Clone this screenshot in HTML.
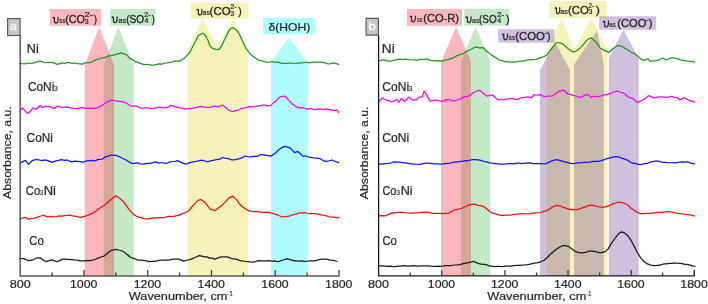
<!DOCTYPE html>
<html><head><meta charset="utf-8"><style>
html,body{margin:0;padding:0;background:#fff;width:708px;height:304px;overflow:hidden}
svg{display:block;will-change:transform}
</style></head><body>
<svg width="708" height="304" viewBox="0 0 708 304">
<polygon points="103.8,275.9 103.8,65.0 118.3,27.0 133.7,65.0 133.7,275.9" fill="rgb(58,178,72)" fill-opacity="0.3"/>
<rect x="110.3" y="8.9" width="44.9" height="16.7" fill="rgb(58,178,72)" fill-opacity="0.3"/>
<polygon points="84.7,275.9 84.7,65.0 99.2,27.0 114.1,65.0 114.1,275.9" fill="rgb(238,18,38)" fill-opacity="0.3"/>
<rect x="49.9" y="9.1" width="51.0" height="16.7" fill="rgb(238,18,38)" fill-opacity="0.3"/>
<polygon points="187.7,275.9 187.7,50.2 202.4,18.9 217.3,46.3 233.1,18.9 247.9,50.2 247.9,275.9" fill="rgb(222,215,25)" fill-opacity="0.3"/>
<rect x="190.5" y="2.9" width="58.0" height="16.0" fill="rgb(222,215,25)" fill-opacity="0.3"/>
<polygon points="271.0,275.9 271.0,62.0 288.8,37.8 307.0,62.0 307.0,275.9" fill="rgb(176,253,255)" fill-opacity="1"/>
<rect x="263.1" y="17.9" width="51.9" height="16.3" fill="rgb(176,253,255)" fill-opacity="1"/>
<polygon points="461.1,275.9 461.1,61.5 475.6,27.0 490.3,61.5 490.3,275.9" fill="rgb(58,178,72)" fill-opacity="0.3"/>
<rect x="464.3" y="8.8" width="45.0" height="16.8" fill="rgb(58,178,72)" fill-opacity="0.3"/>
<polygon points="441.0,275.9 441.0,61.5 456.2,27.0 471.0,61.5 471.0,275.9" fill="rgb(238,18,38)" fill-opacity="0.3"/>
<rect x="406.9" y="9.0" width="55.1" height="16.8" fill="rgb(238,18,38)" fill-opacity="0.3"/>
<polygon points="546.5,275.9 546.5,50.0 561.5,17.7 573.8,50.0 591.6,17.7 607.3,50.0 607.3,275.9" fill="rgb(222,215,25)" fill-opacity="0.3"/>
<rect x="548.9" y="1.1" width="57.8" height="16.6" fill="rgb(222,215,25)" fill-opacity="0.3"/>
<polygon points="540.0,275.9 540.0,70.0 555.0,42.0 570.0,70.0 570.0,275.9" fill="rgb(95,48,145)" fill-opacity="0.3"/>
<polygon points="574.0,275.9 574.0,64.5 597.0,30.8 603.8,64.5 603.8,275.9" fill="rgb(95,48,145)" fill-opacity="0.3"/>
<polygon points="608.8,275.9 608.8,58.0 623.3,30.0 638.7,58.0 638.7,275.9" fill="rgb(95,48,145)" fill-opacity="0.3"/>
<rect x="498.2" y="29.2" width="56.2" height="13.5" fill="rgb(95,48,145)" fill-opacity="0.3"/>
<rect x="599.1" y="16.3" width="57.1" height="13.4" fill="rgb(95,48,145)" fill-opacity="0.3"/>
<path d="M19.80,63.43 L22.09,63.65 L25.00,63.82 L27.51,63.00 L30.00,63.29 L32.50,63.05 L35.00,62.70 L37.50,61.69 L40.00,61.18 L42.50,61.80 L45.00,62.75 L47.56,62.26 L50.00,62.39 L54.00,62.90 L57.00,64.36 L60.00,63.57 L62.38,62.91 L65.00,63.57 L67.50,62.30 L70.00,62.82 L72.50,63.45 L75.00,62.97 L77.50,63.73 L80.00,63.86 L82.50,64.15 L85.00,62.87 L87.50,62.56 L90.00,62.54 L92.50,61.72 L95.00,60.40 L97.50,58.93 L100.00,58.96 L102.50,57.88 L105.00,57.74 L107.56,56.08 L110.00,55.95 L114.00,54.78 L118.00,53.82 L121.00,52.85 L125.00,54.08 L127.38,55.59 L130.00,58.55 L132.95,59.90 L136.00,61.97 L138.78,62.56 L141.80,63.81 L144.20,64.60 L146.84,64.25 L149.70,64.64 L152.03,65.30 L154.52,64.89 L157.08,64.36 L159.60,63.84 L162.08,64.11 L164.56,63.07 L167.03,62.90 L169.50,62.48 L172.08,62.04 L174.73,60.99 L177.21,61.02 L179.30,61.10 L184.00,58.48 L187.20,55.26 L190.00,51.98 L193.00,46.00 L196.00,40.30 L198.00,36.03 L200.50,34.25 L202.60,33.21 L204.50,34.28 L206.00,36.43 L208.00,40.54 L210.00,46.04 L213.00,48.67 L215.80,49.35 L218.80,49.62 L221.50,46.24 L224.70,39.33 L226.80,34.94 L228.70,31.14 L231.00,28.16 L233.00,27.81 L235.30,29.27 L237.60,31.33 L240.00,35.52 L242.50,41.28 L245.90,48.38 L250.40,54.11 L253.26,56.50 L256.30,58.57 L259.15,60.47 L262.20,60.93 L264.59,61.57 L267.16,62.08 L269.70,62.25 L272.14,61.40 L274.56,62.42 L277.00,61.82 L279.49,62.68 L282.00,63.28 L284.50,63.45 L286.97,63.43 L289.44,63.21 L291.90,63.19 L294.37,63.74 L296.83,63.15 L299.30,63.18 L301.76,62.81 L304.23,62.50 L306.70,62.46 L309.20,62.84 L311.70,62.45 L314.20,62.06 L316.67,62.02 L319.14,62.13 L321.60,62.24 L324.18,62.51 L326.76,63.70 L329.00,64.00 L333.40,62.86 L336.27,63.62 L338.60,64.34" fill="none" stroke="#239623" stroke-width="1.25" stroke-linejoin="round" stroke-linecap="round"/>
<path d="M19.80,110.85 L22.40,107.96 L24.84,110.87 L27.60,113.38 L30.33,111.36 L32.80,107.97 L36.00,109.29 L40.20,105.49 L42.50,107.57 L46.00,106.26 L50.60,106.52 L53.60,108.64 L58.00,106.37 L62.00,107.43 L64.48,107.21 L67.00,106.87 L71.40,108.07 L74.34,108.27 L77.30,108.56 L81.80,107.29 L85.00,108.46 L89.20,108.46 L94.00,108.46 L98.00,107.53 L100.88,106.14 L104.00,103.94 L107.01,102.08 L110.00,100.48 L113.07,100.49 L115.90,100.80 L120.00,101.36 L123.11,101.93 L126.20,103.03 L130.10,105.83 L132.56,106.24 L135.50,105.76 L137.93,106.77 L140.62,108.14 L143.30,108.23 L145.81,107.92 L148.31,107.91 L151.00,108.71 L154.19,108.45 L157.56,107.26 L160.40,107.28 L165.00,107.84 L167.76,107.44 L170.50,105.37 L175.00,106.71 L179.00,107.65 L182.01,108.19 L185.30,109.12 L188.21,108.71 L191.50,108.41 L194.49,107.82 L197.81,107.21 L200.80,106.47 L204.17,107.14 L207.00,107.39 L209.52,107.43 L212.00,106.72 L214.98,106.09 L217.90,106.79 L222.50,105.09 L225.00,107.01 L227.62,109.52 L230.90,111.07 L233.31,111.37 L235.91,110.39 L238.60,110.03 L241.34,108.26 L244.17,108.21 L247.00,107.23 L249.83,106.59 L252.66,106.84 L255.50,106.70 L258.40,105.80 L261.29,105.31 L264.00,104.85 L267.62,105.85 L270.80,105.39 L273.41,103.05 L275.80,101.06 L278.39,98.23 L280.90,96.54 L285.20,96.24 L289.40,100.95 L292.64,104.22 L296.20,106.61 L299.39,107.95 L303.00,107.74 L305.29,108.43 L307.84,109.30 L310.49,108.38 L313.10,109.31 L315.68,109.75 L318.30,108.86 L320.87,109.20 L323.30,109.71 L326.39,108.96 L329.28,109.57 L331.80,110.20 L334.77,110.57 L336.90,109.93 L338.60,112.43" fill="none" stroke="#ff00ff" stroke-width="1.25" stroke-linejoin="round" stroke-linecap="round"/>
<path d="M19.80,163.09 L22.41,161.90 L25.40,160.39 L28.40,164.27 L32.80,160.28 L35.89,159.50 L38.80,159.76 L41.70,160.70 L44.70,159.89 L48.00,160.69 L52.10,162.35 L56.00,160.85 L59.50,160.08 L61.71,159.57 L64.36,160.39 L67.00,159.95 L69.42,161.16 L71.83,161.95 L74.40,161.20 L77.37,161.29 L80.50,161.64 L83.30,162.20 L86.44,160.86 L89.20,160.64 L92.33,160.45 L95.10,160.98 L98.10,159.43 L102.50,159.05 L105.50,156.71 L107.76,156.42 L110.51,155.20 L112.90,155.15 L117.00,155.67 L120.00,157.02 L122.94,158.55 L126.20,159.95 L128.81,161.77 L131.70,163.37 L134.37,163.46 L137.37,162.81 L140.20,163.95 L143.70,164.05 L147.20,163.41 L149.89,163.28 L152.74,162.68 L155.70,161.91 L158.66,163.09 L161.71,162.49 L165.10,163.48 L167.46,163.03 L170.06,161.94 L172.73,161.50 L175.27,161.29 L177.50,160.69 L180.44,162.08 L182.88,163.17 L185.30,164.19 L187.81,163.58 L190.32,162.41 L193.00,161.82 L196.15,161.35 L199.48,160.62 L202.30,160.24 L207.00,161.57 L209.81,161.16 L213.20,160.31 L216.32,159.68 L219.79,159.13 L222.50,157.50 L225.00,158.11 L228.13,158.59 L231.80,159.93 L235.21,159.72 L238.60,158.82 L241.84,157.95 L245.30,156.01 L248.06,156.52 L251.03,156.84 L253.80,156.34 L257.09,156.49 L260.60,154.53 L263.03,154.78 L265.81,155.21 L268.54,155.57 L270.80,156.13 L273.56,154.35 L275.80,152.78 L278.79,149.68 L281.80,147.66 L284.51,146.37 L286.90,146.89 L290.30,148.07 L294.50,152.70 L297.90,151.44 L300.03,153.43 L303.00,156.34 L305.25,155.76 L307.94,156.77 L310.69,157.38 L313.10,157.88 L316.71,158.11 L319.90,158.52 L323.41,160.80 L326.70,161.27 L329.25,160.76 L331.80,159.99 L335.52,161.47 L338.60,162.67" fill="none" stroke="#1212fa" stroke-width="1.25" stroke-linejoin="round" stroke-linecap="round"/>
<path d="M19.80,219.02 L22.41,218.21 L25.40,217.32 L28.40,219.33 L30.54,218.64 L33.17,218.46 L35.80,217.85 L38.40,216.72 L41.00,216.02 L43.20,215.04 L47.00,216.90 L49.33,216.70 L52.10,216.66 L54.29,216.75 L56.73,216.64 L59.50,215.83 L62.01,216.07 L64.84,215.51 L67.60,215.45 L69.90,215.23 L72.77,215.91 L75.00,216.19 L77.69,216.77 L80.30,217.46 L84.70,216.28 L87.03,215.51 L89.70,214.45 L92.20,213.39 L95.16,211.46 L98.10,209.30 L100.51,207.57 L103.09,206.06 L105.50,204.48 L108.63,201.55 L111.40,199.33 L115.90,195.85 L120.00,198.50 L122.97,201.40 L126.20,205.47 L129.30,209.94 L132.40,213.43 L135.40,215.76 L138.60,217.13 L141.03,217.67 L143.63,218.69 L146.40,218.85 L149.39,218.88 L152.54,217.97 L155.70,218.15 L158.83,217.59 L161.97,217.55 L165.10,217.26 L168.27,216.35 L171.42,216.38 L174.40,216.04 L177.14,215.58 L179.70,214.91 L182.10,213.64 L185.34,212.49 L188.40,211.05 L191.68,207.27 L194.60,203.87 L198.00,200.41 L200.80,199.51 L204.70,202.34 L207.35,205.68 L210.10,209.22 L214.80,210.66 L217.94,208.14 L221.00,205.91 L225.00,202.40 L228.40,198.36 L232.60,196.13 L236.90,200.13 L239.35,203.76 L242.00,206.52 L244.79,208.49 L247.90,210.35 L250.21,211.10 L252.71,211.76 L255.50,211.56 L257.91,211.64 L260.54,212.10 L263.21,212.43 L265.70,212.15 L268.60,212.34 L271.31,213.09 L274.20,213.74 L276.65,214.60 L279.25,215.79 L281.85,216.86 L284.30,216.71 L287.25,216.43 L290.03,215.82 L292.80,214.74 L295.64,214.31 L298.47,212.99 L301.30,212.77 L304.10,212.58 L306.90,213.25 L309.70,213.65 L312.53,213.57 L315.36,213.58 L318.20,214.10 L320.91,214.83 L323.61,215.14 L326.70,216.00 L329.71,216.88 L333.18,217.01 L336.38,217.82 L338.60,217.65" fill="none" stroke="#fa0c0c" stroke-width="1.25" stroke-linejoin="round" stroke-linecap="round"/>
<path d="M19.80,258.67 L23.90,258.69 L28.40,260.57 L33.00,259.77 L37.30,257.77 L40.20,257.87 L43.01,259.84 L46.20,261.55 L49.24,260.63 L52.10,259.82 L56.60,261.57 L59.27,260.85 L62.50,259.08 L65.24,259.22 L68.32,259.39 L71.40,259.53 L74.42,259.92 L77.44,260.03 L80.30,260.84 L82.88,260.87 L85.29,260.88 L87.70,260.48 L90.11,260.66 L92.52,260.20 L95.10,259.51 L98.01,258.11 L101.09,256.98 L104.00,256.22 L106.69,254.04 L109.20,251.71 L111.40,250.32 L115.90,249.30 L119.49,250.25 L123.10,251.25 L127.80,255.00 L130.03,257.00 L132.59,258.07 L135.50,258.96 L138.00,260.15 L140.75,260.12 L143.60,260.43 L146.40,260.87 L149.09,261.59 L151.76,261.30 L154.47,261.31 L157.30,260.75 L159.73,260.44 L162.30,260.18 L164.89,260.21 L167.39,260.13 L169.70,259.96 L173.20,259.12 L176.36,259.19 L179.00,259.07 L183.70,261.19 L186.51,260.26 L189.90,259.55 L192.83,258.36 L196.10,257.01 L199.20,255.58 L201.91,256.19 L204.46,256.90 L207.00,256.91 L209.72,258.14 L212.44,258.06 L214.80,259.05 L219.40,257.45 L221.96,256.79 L225.00,256.92 L227.62,256.85 L230.56,258.07 L233.50,258.99 L236.34,259.06 L239.17,260.33 L242.00,260.87 L244.80,261.25 L247.60,261.55 L250.40,261.88 L253.16,262.06 L255.94,261.43 L258.90,260.65 L261.33,260.94 L263.90,260.78 L266.52,260.77 L269.10,260.70 L271.78,261.09 L274.55,260.95 L277.12,261.58 L279.20,261.31 L283.00,259.99 L287.70,258.55 L290.00,259.73 L294.50,260.89 L296.61,260.84 L299.14,261.09 L301.90,260.84 L304.70,261.33 L307.73,261.22 L311.02,260.75 L314.10,260.82 L316.50,260.41 L320.00,259.37 L323.36,259.15 L326.70,259.05 L330.00,260.08 L333.66,260.28 L336.90,261.50" fill="none" stroke="#1a1a1a" stroke-width="1.25" stroke-linejoin="round" stroke-linecap="round"/>
<path d="M378.70,61.00 L381.61,60.06 L384.90,59.98 L387.90,61.09 L390.43,61.23 L393.61,60.34 L396.80,59.52 L399.77,59.04 L402.73,59.53 L405.70,59.18 L408.61,59.64 L411.53,59.75 L414.60,59.94 L417.07,60.34 L419.66,59.30 L422.29,59.35 L424.90,59.42 L427.56,58.98 L430.28,60.32 L432.91,60.55 L435.30,60.90 L437.99,60.72 L440.34,60.79 L442.70,61.05 L445.20,60.04 L447.70,59.61 L450.20,58.96 L452.73,58.09 L455.25,56.76 L457.60,55.41 L460.64,54.46 L463.50,53.60 L466.44,51.53 L469.40,49.97 L472.49,48.56 L475.40,46.97 L479.80,47.87 L483.40,47.62 L485.89,50.71 L488.90,52.87 L491.30,54.88 L493.94,56.61 L496.60,58.14 L499.08,60.10 L501.57,60.60 L504.40,61.28 L506.87,61.86 L509.56,61.77 L512.40,62.06 L515.30,62.01 L517.68,61.63 L520.15,61.20 L522.66,61.16 L525.19,60.63 L527.70,59.78 L530.29,59.88 L533.00,59.58 L535.65,59.35 L538.10,58.65 L540.20,57.84 L543.89,56.48 L546.40,55.40 L549.50,51.16 L552.60,47.24 L555.50,43.80 L558.00,42.28 L562.70,43.89 L565.40,46.30 L568.10,48.68 L572.80,51.95 L575.90,51.35 L580.50,47.69 L583.00,44.77 L585.20,42.29 L588.00,39.33 L591.20,37.83 L593.50,39.79 L595.90,41.92 L600.50,48.27 L605.20,50.85 L609.10,52.45 L613.00,48.53 L615.42,46.99 L617.90,45.45 L622.30,46.58 L625.19,48.36 L628.50,50.20 L630.99,52.23 L633.65,53.05 L636.30,54.97 L639.01,57.29 L641.72,59.69 L644.00,60.38 L647.90,58.83 L650.30,61.29 L653.16,60.96 L656.50,60.64 L659.79,59.55 L662.70,57.98 L665.80,60.04 L668.06,59.04 L670.83,57.99 L673.60,57.90 L676.23,58.32 L678.85,59.16 L681.30,60.07 L684.44,60.55 L687.50,61.05 L691.39,61.38 L694.50,62.10" fill="none" stroke="#239623" stroke-width="1.25" stroke-linejoin="round" stroke-linecap="round"/>
<path d="M378.70,102.13 L381.90,98.07 L384.90,99.46 L387.66,100.58 L390.80,101.56 L394.03,101.06 L396.80,99.37 L399.00,102.30 L401.20,98.48 L404.90,101.45 L408.60,97.15 L413.10,100.23 L416.14,99.71 L419.00,97.16 L422.00,97.13 L424.20,91.01 L427.20,96.17 L430.10,101.09 L432.51,100.52 L435.30,99.93 L438.16,100.72 L441.30,101.26 L443.77,100.97 L446.40,99.66 L448.70,99.47 L453.10,100.89 L455.34,100.65 L457.92,99.78 L460.50,98.82 L462.96,97.35 L465.43,96.66 L467.90,96.27 L470.49,95.12 L473.09,92.76 L475.40,91.75 L477.88,90.43 L480.30,90.60 L483.76,93.67 L487.30,96.17 L490.15,95.19 L492.80,95.23 L495.16,97.53 L498.20,99.91 L500.58,99.83 L503.41,99.70 L506.36,99.10 L509.10,98.82 L512.32,98.29 L515.36,99.26 L518.40,99.28 L521.70,97.54 L525.00,97.42 L527.70,96.98 L531.60,97.54 L533.90,94.57 L536.91,95.03 L540.20,94.58 L544.80,97.02 L547.22,96.14 L550.00,96.01 L552.60,95.77 L555.89,93.56 L558.80,91.45 L563.50,90.07 L568.10,94.22 L571.10,94.66 L574.30,95.66 L577.51,96.52 L580.50,97.59 L585.00,95.12 L588.10,94.31 L591.20,97.59 L593.90,96.29 L597.28,96.55 L600.50,96.07 L603.16,94.82 L605.64,94.79 L608.30,94.08 L611.34,92.98 L614.56,91.76 L617.60,91.15 L620.31,92.24 L622.86,92.96 L625.40,94.23 L628.12,96.98 L630.84,97.93 L633.20,98.92 L637.80,102.53 L640.89,100.75 L644.00,99.20 L648.70,95.69 L653.40,97.87 L656.10,97.69 L659.31,96.81 L662.70,96.94 L665.42,97.38 L668.34,97.17 L671.17,96.23 L673.60,97.27 L677.09,97.67 L679.80,99.84 L684.40,97.67 L689.10,100.46 L692.09,101.33 L694.50,102.03" fill="none" stroke="#ff00ff" stroke-width="1.25" stroke-linejoin="round" stroke-linecap="round"/>
<path d="M378.70,164.12 L381.43,164.17 L384.90,163.57 L387.86,163.49 L390.80,163.02 L393.61,161.99 L396.80,162.09 L399.44,162.18 L402.41,162.55 L405.70,162.90 L408.48,163.30 L411.51,163.79 L414.58,164.12 L417.50,164.25 L420.27,164.34 L422.98,163.68 L425.54,163.18 L427.90,163.21 L430.59,163.27 L432.94,163.66 L435.30,163.97 L437.66,163.75 L440.01,164.07 L442.70,163.89 L445.16,163.63 L447.90,163.32 L450.64,163.01 L453.10,162.43 L455.79,161.84 L458.14,161.77 L460.50,161.46 L463.07,161.18 L465.65,160.74 L467.90,160.76 L472.40,159.68 L474.90,159.71 L478.00,159.86 L480.77,160.32 L483.94,161.49 L487.30,162.17 L489.91,162.84 L492.65,163.23 L495.44,163.51 L498.20,163.86 L500.82,164.17 L503.36,164.10 L506.05,163.91 L509.10,163.56 L511.42,163.54 L513.92,163.80 L516.56,163.15 L519.26,163.09 L521.96,163.65 L524.60,163.19 L527.30,163.01 L530.14,162.86 L532.98,163.52 L535.69,163.56 L538.14,163.59 L540.20,163.66 L543.89,163.88 L546.40,163.51 L549.55,161.83 L552.60,160.63 L555.25,159.75 L558.00,159.79 L561.26,160.78 L565.00,161.83 L567.81,162.61 L570.88,163.30 L574.30,163.51 L576.68,162.93 L579.31,162.78 L582.01,162.71 L584.57,162.27 L586.80,162.26 L589.60,162.14 L591.85,161.54 L594.30,161.34 L597.38,161.31 L600.66,160.95 L603.60,159.85 L606.94,158.68 L609.90,157.95 L613.01,157.09 L616.10,156.66 L619.10,157.01 L622.30,158.38 L624.79,159.05 L627.45,160.11 L630.10,161.95 L632.61,163.21 L635.11,163.39 L637.80,164.19 L640.90,164.55 L644.19,163.53 L647.20,163.51 L650.70,161.95 L654.10,161.28 L656.59,160.87 L659.26,161.47 L662.70,162.37 L664.96,162.34 L667.59,162.70 L670.41,162.75 L673.24,162.59 L675.90,162.94 L678.20,162.25 L681.84,161.81 L684.80,162.05 L687.50,161.74 L691.58,163.33 L694.50,163.76" fill="none" stroke="#1212fa" stroke-width="1.25" stroke-linejoin="round" stroke-linecap="round"/>
<path d="M378.70,215.80 L381.43,215.53 L384.90,215.81 L387.59,214.93 L390.80,213.32 L393.12,212.79 L395.81,212.61 L398.60,212.50 L401.20,212.11 L404.11,212.64 L406.86,212.98 L410.10,213.21 L412.56,213.07 L415.35,212.77 L418.25,212.65 L421.04,212.32 L423.50,212.39 L426.75,212.22 L429.50,212.65 L432.40,213.48 L434.98,213.35 L437.73,213.42 L440.39,213.45 L442.70,213.62 L445.88,213.42 L448.70,213.25 L451.12,211.78 L453.69,210.16 L456.10,209.54 L459.14,209.00 L462.00,208.24 L464.94,206.81 L467.90,205.36 L471.01,204.55 L473.90,203.93 L478.00,205.32 L480.52,205.68 L483.40,206.32 L486.56,208.74 L490.40,211.97 L492.74,213.12 L495.32,213.79 L498.16,214.53 L501.30,215.54 L503.62,215.26 L506.12,215.22 L508.76,215.18 L511.46,214.86 L514.16,214.27 L516.80,214.16 L519.45,213.85 L522.17,213.65 L524.89,213.60 L527.54,214.00 L530.07,213.65 L532.40,213.24 L535.57,212.93 L538.44,212.75 L541.02,212.54 L543.30,211.67 L546.64,210.62 L549.50,209.11 L552.95,206.75 L556.50,205.32 L559.96,206.02 L563.50,207.34 L566.01,208.15 L568.60,209.12 L571.20,209.60 L573.86,209.59 L576.53,209.57 L579.00,209.18 L582.10,207.96 L585.00,207.18 L587.89,205.65 L591.20,205.24 L594.13,205.67 L597.40,206.49 L600.50,207.24 L603.13,207.33 L605.59,206.59 L608.30,205.82 L610.74,204.92 L613.40,203.59 L616.04,202.87 L618.40,202.03 L622.04,202.59 L625.40,203.73 L627.94,205.20 L630.58,207.71 L633.20,209.71 L635.83,211.58 L638.44,212.80 L640.90,213.72 L644.05,213.70 L647.20,213.46 L649.49,213.33 L651.93,212.90 L654.90,212.85 L657.12,212.28 L659.64,212.39 L662.29,212.26 L664.93,211.92 L667.40,211.52 L670.09,211.92 L672.56,212.22 L675.15,212.89 L678.20,213.36 L680.79,213.51 L683.83,214.04 L687.03,214.49 L690.07,214.77 L692.66,215.58 L694.50,215.79" fill="none" stroke="#fa0c0c" stroke-width="1.25" stroke-linejoin="round" stroke-linecap="round"/>
<path d="M378.70,265.84 L380.30,265.95 L382.53,265.90 L385.18,266.11 L388.01,266.32 L390.80,266.18 L393.12,266.52 L395.56,266.61 L398.08,266.13 L400.64,266.02 L403.19,265.72 L405.70,265.89 L408.17,266.06 L410.64,265.77 L413.11,265.62 L415.57,265.85 L418.03,266.13 L420.50,265.80 L423.05,265.84 L425.71,265.82 L428.36,265.84 L430.91,266.19 L433.26,266.28 L435.30,266.29 L438.15,266.17 L440.17,266.38 L442.70,266.09 L445.39,265.64 L448.46,265.52 L451.62,265.50 L454.60,265.00 L457.34,264.89 L459.99,264.60 L462.54,263.91 L465.00,263.36 L468.26,262.69 L471.34,261.81 L473.90,261.44 L478.00,263.38 L481.04,264.13 L484.60,264.48 L486.85,264.94 L489.27,265.99 L492.80,266.38 L494.88,266.66 L497.30,266.33 L499.95,266.47 L502.74,266.52 L505.56,266.15 L508.32,266.08 L510.90,266.09 L513.77,265.68 L516.61,265.47 L519.41,265.47 L522.13,265.07 L524.77,264.91 L527.30,264.68 L530.25,264.08 L533.13,263.36 L535.85,262.96 L538.33,262.61 L540.50,261.80 L544.38,260.09 L547.10,257.79 L551.00,253.73 L555.30,250.04 L557.60,248.51 L560.24,246.74 L562.70,245.69 L565.66,245.55 L568.50,246.32 L571.70,248.69 L575.00,251.29 L578.08,252.44 L581.60,252.81 L583.87,252.52 L586.40,252.15 L589.03,251.21 L591.60,251.19 L594.14,251.26 L596.71,251.92 L599.18,252.60 L601.40,252.68 L605.12,251.63 L608.00,249.15 L611.00,243.90 L614.60,238.78 L618.00,234.35 L621.20,231.92 L624.50,232.95 L627.80,235.72 L631.00,240.22 L634.30,246.55 L637.50,252.72 L640.90,258.12 L644.00,261.45 L647.50,263.91 L650.59,265.09 L654.10,265.51 L656.27,265.48 L658.64,265.36 L661.22,264.73 L664.00,263.95 L666.47,263.81 L669.16,263.33 L671.94,263.33 L674.63,262.96 L677.10,263.25 L679.84,263.37 L682.37,263.57 L684.73,264.32 L687.00,264.34 L690.10,265.20 L693.00,266.16 L695.00,266.44" fill="none" stroke="#1a1a1a" stroke-width="1.25" stroke-linejoin="round" stroke-linecap="round"/>
<path d="M20.2,35.5 V275.9 H339.0 V269.9" fill="none" stroke="#5a5a5a" stroke-width="1.50"/>
<line x1="52.1" y1="275.9" x2="52.1" y2="272.4" stroke="#333" stroke-width="1.2"/>
<line x1="84.0" y1="275.9" x2="84.0" y2="269.9" stroke="#333" stroke-width="1.2"/>
<line x1="115.8" y1="275.9" x2="115.8" y2="272.4" stroke="#333" stroke-width="1.2"/>
<line x1="147.7" y1="275.9" x2="147.7" y2="269.9" stroke="#333" stroke-width="1.2"/>
<line x1="179.6" y1="275.9" x2="179.6" y2="272.4" stroke="#333" stroke-width="1.2"/>
<line x1="211.5" y1="275.9" x2="211.5" y2="269.9" stroke="#333" stroke-width="1.2"/>
<line x1="243.4" y1="275.9" x2="243.4" y2="272.4" stroke="#333" stroke-width="1.2"/>
<line x1="275.2" y1="275.9" x2="275.2" y2="269.9" stroke="#333" stroke-width="1.2"/>
<line x1="307.1" y1="275.9" x2="307.1" y2="272.4" stroke="#333" stroke-width="1.2"/>
<path d="M378.6,35.3 V275.9 H694.3 V269.9" fill="none" stroke="#1a1a1a" stroke-width="1.30"/>
<line x1="410.2" y1="275.9" x2="410.2" y2="272.4" stroke="#333" stroke-width="1.2"/>
<line x1="441.7" y1="275.9" x2="441.7" y2="269.9" stroke="#333" stroke-width="1.2"/>
<line x1="473.3" y1="275.9" x2="473.3" y2="272.4" stroke="#333" stroke-width="1.2"/>
<line x1="504.9" y1="275.9" x2="504.9" y2="269.9" stroke="#333" stroke-width="1.2"/>
<line x1="536.5" y1="275.9" x2="536.5" y2="272.4" stroke="#333" stroke-width="1.2"/>
<line x1="568.0" y1="275.9" x2="568.0" y2="269.9" stroke="#333" stroke-width="1.2"/>
<line x1="599.6" y1="275.9" x2="599.6" y2="272.4" stroke="#333" stroke-width="1.2"/>
<line x1="631.2" y1="275.9" x2="631.2" y2="269.9" stroke="#333" stroke-width="1.2"/>
<line x1="662.7" y1="275.9" x2="662.7" y2="272.4" stroke="#333" stroke-width="1.2"/>
<rect x="7.6" y="18.6" width="12.5" height="16.9" fill="#c8c8c8" stroke="#5a5a5a" stroke-width="1.2"/>
<rect x="366.1" y="18.4" width="12.3" height="16.7" fill="#c8c8c8" stroke="#5a5a5a" stroke-width="1.2"/>
<text x="9.65" y="288.00" font-size="11.60" font-family="Liberation Sans, sans-serif" fill="#262626" stroke="#262626" stroke-width="0.21" textLength="21.04" lengthAdjust="spacingAndGlyphs" >800</text>
<text x="70.02" y="288.00" font-size="11.60" font-family="Liberation Sans, sans-serif" fill="#262626" stroke="#262626" stroke-width="0.21" textLength="27.42" lengthAdjust="spacingAndGlyphs" >1000</text>
<text x="133.78" y="288.00" font-size="11.60" font-family="Liberation Sans, sans-serif" fill="#262626" stroke="#262626" stroke-width="0.21" textLength="27.42" lengthAdjust="spacingAndGlyphs" >1200</text>
<text x="197.54" y="288.00" font-size="11.60" font-family="Liberation Sans, sans-serif" fill="#262626" stroke="#262626" stroke-width="0.21" textLength="27.42" lengthAdjust="spacingAndGlyphs" >1400</text>
<text x="261.30" y="288.00" font-size="11.60" font-family="Liberation Sans, sans-serif" fill="#262626" stroke="#262626" stroke-width="0.21" textLength="27.42" lengthAdjust="spacingAndGlyphs" >1600</text>
<text x="325.06" y="288.00" font-size="11.60" font-family="Liberation Sans, sans-serif" fill="#262626" stroke="#262626" stroke-width="0.21" textLength="27.42" lengthAdjust="spacingAndGlyphs" >1800</text>
<text x="368.05" y="288.00" font-size="11.60" font-family="Liberation Sans, sans-serif" fill="#262626" stroke="#262626" stroke-width="0.21" textLength="21.04" lengthAdjust="spacingAndGlyphs" >800</text>
<text x="427.80" y="288.00" font-size="11.60" font-family="Liberation Sans, sans-serif" fill="#262626" stroke="#262626" stroke-width="0.21" textLength="27.42" lengthAdjust="spacingAndGlyphs" >1000</text>
<text x="490.94" y="288.00" font-size="11.60" font-family="Liberation Sans, sans-serif" fill="#262626" stroke="#262626" stroke-width="0.21" textLength="27.42" lengthAdjust="spacingAndGlyphs" >1200</text>
<text x="554.08" y="288.00" font-size="11.60" font-family="Liberation Sans, sans-serif" fill="#262626" stroke="#262626" stroke-width="0.21" textLength="27.42" lengthAdjust="spacingAndGlyphs" >1400</text>
<text x="617.22" y="288.00" font-size="11.60" font-family="Liberation Sans, sans-serif" fill="#262626" stroke="#262626" stroke-width="0.21" textLength="27.42" lengthAdjust="spacingAndGlyphs" >1600</text>
<text x="680.36" y="288.00" font-size="11.60" font-family="Liberation Sans, sans-serif" fill="#262626" stroke="#262626" stroke-width="0.21" textLength="27.42" lengthAdjust="spacingAndGlyphs" >1800</text>
<text x="128.74" y="300.00" font-size="11.80" font-family="Liberation Sans, sans-serif" fill="#262626" stroke="#262626" stroke-width="0.21" textLength="98.69" lengthAdjust="spacingAndGlyphs" >Wavenumber, cm</text>
<text x="227.01" y="295.60" font-size="7.40" font-family="Liberation Sans, sans-serif" fill="#262626" stroke="#262626" stroke-width="0.13" textLength="5.81" lengthAdjust="spacingAndGlyphs" >-1</text>
<text x="487.34" y="299.90" font-size="11.80" font-family="Liberation Sans, sans-serif" fill="#262626" stroke="#262626" stroke-width="0.21" textLength="98.99" lengthAdjust="spacingAndGlyphs" >Wavenumber, cm</text>
<text x="585.92" y="295.50" font-size="7.40" font-family="Liberation Sans, sans-serif" fill="#262626" stroke="#262626" stroke-width="0.13" textLength="5.59" lengthAdjust="spacingAndGlyphs" >-1</text>
<text x="26.87" y="52.60" font-size="11.90" font-family="Liberation Sans, sans-serif" fill="#262626" stroke="#262626" stroke-width="0.22" textLength="11.88" lengthAdjust="spacingAndGlyphs" >Ni</text>
<text x="27.90" y="90.60" font-size="11.90" font-family="Liberation Sans, sans-serif" fill="#262626" stroke="#262626" stroke-width="0.22" textLength="26.40" lengthAdjust="spacingAndGlyphs" >CoNi</text>
<text x="54.05" y="90.60" font-size="7.80" font-family="Liberation Sans, sans-serif" fill="#262626" stroke="#262626" stroke-width="0.14" textLength="3.64" lengthAdjust="spacingAndGlyphs" >3</text>
<text x="26.60" y="141.60" font-size="11.90" font-family="Liberation Sans, sans-serif" fill="#262626" stroke="#262626" stroke-width="0.22" textLength="26.40" lengthAdjust="spacingAndGlyphs" >CoNi</text>
<text x="25.83" y="194.80" font-size="11.90" font-family="Liberation Sans, sans-serif" fill="#262626" stroke="#262626" stroke-width="0.22" textLength="14.45" lengthAdjust="spacingAndGlyphs" >Co</text>
<text x="40.09" y="195.20" font-size="7.80" font-family="Liberation Sans, sans-serif" fill="#262626" stroke="#262626" stroke-width="0.14" textLength="3.05" lengthAdjust="spacingAndGlyphs" >3</text>
<text x="43.74" y="194.80" font-size="11.90" font-family="Liberation Sans, sans-serif" fill="#262626" stroke="#262626" stroke-width="0.22" textLength="12.24" lengthAdjust="spacingAndGlyphs" >Ni</text>
<text x="29.23" y="245.30" font-size="11.90" font-family="Liberation Sans, sans-serif" fill="#262626" stroke="#262626" stroke-width="0.22" textLength="14.45" lengthAdjust="spacingAndGlyphs" >Co</text>
<text x="381.89" y="52.60" font-size="11.90" font-family="Liberation Sans, sans-serif" fill="#262626" stroke="#262626" stroke-width="0.22" textLength="12.83" lengthAdjust="spacingAndGlyphs" >Ni</text>
<text x="382.39" y="90.60" font-size="11.90" font-family="Liberation Sans, sans-serif" fill="#262626" stroke="#262626" stroke-width="0.22" textLength="26.72" lengthAdjust="spacingAndGlyphs" >CoNi</text>
<text x="408.53" y="90.60" font-size="7.80" font-family="Liberation Sans, sans-serif" fill="#262626" stroke="#262626" stroke-width="0.14" textLength="3.99" lengthAdjust="spacingAndGlyphs" >3</text>
<text x="382.39" y="141.60" font-size="11.90" font-family="Liberation Sans, sans-serif" fill="#262626" stroke="#262626" stroke-width="0.22" textLength="26.72" lengthAdjust="spacingAndGlyphs" >CoNi</text>
<text x="382.45" y="194.80" font-size="11.90" font-family="Liberation Sans, sans-serif" fill="#262626" stroke="#262626" stroke-width="0.22" textLength="13.91" lengthAdjust="spacingAndGlyphs" >Co</text>
<text x="396.14" y="195.20" font-size="7.80" font-family="Liberation Sans, sans-serif" fill="#262626" stroke="#262626" stroke-width="0.14" textLength="3.75" lengthAdjust="spacingAndGlyphs" >3</text>
<text x="400.67" y="194.80" font-size="11.90" font-family="Liberation Sans, sans-serif" fill="#262626" stroke="#262626" stroke-width="0.22" textLength="11.88" lengthAdjust="spacingAndGlyphs" >Ni</text>
<text x="382.43" y="245.30" font-size="11.90" font-family="Liberation Sans, sans-serif" fill="#262626" stroke="#262626" stroke-width="0.22" textLength="14.45" lengthAdjust="spacingAndGlyphs" >Co</text>
<g transform="translate(10.80,199.00) rotate(-90)"><text x="-0.02" y="0" font-size="11.80" font-family="Liberation Sans, sans-serif" fill="#262626" stroke="#262626" stroke-width="0.20" textLength="92.85" lengthAdjust="spacingAndGlyphs">Absorbance, a.u.</text></g>
<g transform="translate(367.80,199.20) rotate(-90)"><text x="-0.02" y="0" font-size="11.80" font-family="Liberation Sans, sans-serif" fill="#262626" stroke="#262626" stroke-width="0.20" textLength="92.74" lengthAdjust="spacingAndGlyphs">Absorbance, a.u.</text></g>
<path d="M53.00,18.04 Q53.65,17.02 54.40,17.68 L54.40,20.80 C54.40,22.60 55.16,23.20 56.02,23.20 C57.64,23.20 58.40,20.50 58.08,17.32" fill="none" stroke="#262626" stroke-width="1.2" stroke-linecap="round" stroke-linejoin="round"/>
<text x="59.33" y="23.40" font-size="7.00" font-family="Liberation Sans, sans-serif" fill="#262626" stroke="#262626" stroke-width="0.19" textLength="6.20" lengthAdjust="spacingAndGlyphs" >ss</text>
<text x="65.13" y="23.20" font-size="11.00" font-family="Liberation Sans, sans-serif" fill="#262626" stroke="#262626" stroke-width="0.30" textLength="19.79" lengthAdjust="spacingAndGlyphs" >(CO</text>
<text x="84.63" y="23.50" font-size="7.00" font-family="Liberation Sans, sans-serif" fill="#262626" stroke="#262626" stroke-width="0.19" textLength="3.87" lengthAdjust="spacingAndGlyphs" >3</text>
<text x="84.42" y="17.00" font-size="7.00" font-family="Liberation Sans, sans-serif" fill="#262626" stroke="#262626" stroke-width="0.19" textLength="8.51" lengthAdjust="spacingAndGlyphs" >2-</text>
<text x="93.64" y="23.20" font-size="11.00" font-family="Liberation Sans, sans-serif" fill="#262626" stroke="#262626" stroke-width="0.30" textLength="3.27" lengthAdjust="spacingAndGlyphs" >)</text>
<path d="M112.00,17.54 Q112.65,16.52 113.40,17.18 L113.40,20.30 C113.40,22.10 114.16,22.70 115.02,22.70 C116.64,22.70 117.40,20.00 117.08,16.82" fill="none" stroke="#262626" stroke-width="1.2" stroke-linecap="round" stroke-linejoin="round"/>
<text x="118.27" y="22.90" font-size="7.00" font-family="Liberation Sans, sans-serif" fill="#262626" stroke="#262626" stroke-width="0.19" textLength="8.21" lengthAdjust="spacingAndGlyphs" >as</text>
<text x="126.17" y="22.70" font-size="11.00" font-family="Liberation Sans, sans-serif" fill="#262626" stroke="#262626" stroke-width="0.30" textLength="18.01" lengthAdjust="spacingAndGlyphs" >(SO</text>
<text x="144.44" y="23.00" font-size="7.00" font-family="Liberation Sans, sans-serif" fill="#262626" stroke="#262626" stroke-width="0.19" textLength="3.97" lengthAdjust="spacingAndGlyphs" >4</text>
<text x="144.25" y="16.50" font-size="7.00" font-family="Liberation Sans, sans-serif" fill="#262626" stroke="#262626" stroke-width="0.19" textLength="6.27" lengthAdjust="spacingAndGlyphs" >2-</text>
<text x="151.85" y="22.70" font-size="11.00" font-family="Liberation Sans, sans-serif" fill="#262626" stroke="#262626" stroke-width="0.30" textLength="3.01" lengthAdjust="spacingAndGlyphs" >)</text>
<path d="M197.00,10.03 Q197.62,9.02 198.35,9.68 L198.35,12.77 C198.35,14.55 199.08,15.15 199.91,15.15 C201.47,15.15 202.20,12.47 201.89,9.32" fill="none" stroke="#262626" stroke-width="1.2" stroke-linecap="round" stroke-linejoin="round"/>
<text x="202.50" y="15.35" font-size="7.00" font-family="Liberation Sans, sans-serif" fill="#262626" stroke="#262626" stroke-width="0.19" textLength="7.56" lengthAdjust="spacingAndGlyphs" >as</text>
<text x="209.59" y="15.15" font-size="11.00" font-family="Liberation Sans, sans-serif" fill="#262626" stroke="#262626" stroke-width="0.30" textLength="20.96" lengthAdjust="spacingAndGlyphs" >(CO</text>
<text x="230.33" y="15.50" font-size="7.00" font-family="Liberation Sans, sans-serif" fill="#262626" stroke="#262626" stroke-width="0.19" textLength="3.99" lengthAdjust="spacingAndGlyphs" >3</text>
<text x="230.23" y="9.20" font-size="7.00" font-family="Liberation Sans, sans-serif" fill="#262626" stroke="#262626" stroke-width="0.19" textLength="6.49" lengthAdjust="spacingAndGlyphs" >2-</text>
<text x="238.24" y="15.15" font-size="11.00" font-family="Liberation Sans, sans-serif" fill="#262626" stroke="#262626" stroke-width="0.30" textLength="3.39" lengthAdjust="spacingAndGlyphs" >)</text>
<text x="268.49" y="30.50" font-size="11.40" font-family="Liberation Sans, sans-serif" fill="#262626" stroke="#262626" stroke-width="0.21" textLength="41.76" lengthAdjust="spacingAndGlyphs" >δ(HOH)</text>
<path d="M410.10,16.84 Q410.76,15.82 411.53,16.48 L411.53,19.60 C411.53,21.40 412.30,22.00 413.18,22.00 C414.83,22.00 415.60,19.30 415.27,16.12" fill="none" stroke="#262626" stroke-width="1.2" stroke-linecap="round" stroke-linejoin="round"/>
<text x="417.05" y="22.20" font-size="7.00" font-family="Liberation Sans, sans-serif" fill="#262626" stroke="#262626" stroke-width="0.19" textLength="5.56" lengthAdjust="spacingAndGlyphs" >ss</text>
<text x="423.21" y="22.00" font-size="11.00" font-family="Liberation Sans, sans-serif" fill="#262626" stroke="#262626" stroke-width="0.30" textLength="35.88" lengthAdjust="spacingAndGlyphs" >(CO-R)</text>
<path d="M466.00,17.54 Q466.65,16.52 467.40,17.18 L467.40,20.30 C467.40,22.10 468.16,22.70 469.02,22.70 C470.64,22.70 471.40,20.00 471.08,16.82" fill="none" stroke="#262626" stroke-width="1.2" stroke-linecap="round" stroke-linejoin="round"/>
<text x="472.10" y="22.90" font-size="7.00" font-family="Liberation Sans, sans-serif" fill="#262626" stroke="#262626" stroke-width="0.19" textLength="7.35" lengthAdjust="spacingAndGlyphs" >as</text>
<text x="479.09" y="22.70" font-size="11.00" font-family="Liberation Sans, sans-serif" fill="#262626" stroke="#262626" stroke-width="0.30" textLength="17.59" lengthAdjust="spacingAndGlyphs" >(SO</text>
<text x="497.24" y="23.00" font-size="7.00" font-family="Liberation Sans, sans-serif" fill="#262626" stroke="#262626" stroke-width="0.19" textLength="3.97" lengthAdjust="spacingAndGlyphs" >4</text>
<text x="496.98" y="16.50" font-size="7.00" font-family="Liberation Sans, sans-serif" fill="#262626" stroke="#262626" stroke-width="0.19" textLength="7.39" lengthAdjust="spacingAndGlyphs" >2-</text>
<text x="505.94" y="22.70" font-size="11.00" font-family="Liberation Sans, sans-serif" fill="#262626" stroke="#262626" stroke-width="0.30" textLength="3.64" lengthAdjust="spacingAndGlyphs" >)</text>
<path d="M502.40,34.74 Q503.05,33.72 503.80,34.38 L503.80,37.50 C503.80,39.30 504.56,39.90 505.42,39.90 C507.04,39.90 507.80,37.20 507.48,34.02" fill="none" stroke="#262626" stroke-width="1.2" stroke-linecap="round" stroke-linejoin="round"/>
<text x="508.62" y="40.10" font-size="7.00" font-family="Liberation Sans, sans-serif" fill="#262626" stroke="#262626" stroke-width="0.19" textLength="6.62" lengthAdjust="spacingAndGlyphs" >ss</text>
<text x="515.20" y="39.90" font-size="11.00" font-family="Liberation Sans, sans-serif" fill="#262626" stroke="#262626" stroke-width="0.30" textLength="29.65" lengthAdjust="spacingAndGlyphs" >(COO</text>
<text x="544.40" y="34.50" font-size="7.00" font-family="Liberation Sans, sans-serif" fill="#262626" stroke="#262626" stroke-width="0.19" textLength="3.00" lengthAdjust="spacingAndGlyphs" >-</text>
<text x="547.04" y="39.90" font-size="11.00" font-family="Liberation Sans, sans-serif" fill="#262626" stroke="#262626" stroke-width="0.30" textLength="3.52" lengthAdjust="spacingAndGlyphs" >)</text>
<path d="M555.20,8.35 Q555.78,7.32 556.45,7.99 L556.45,11.16 C556.45,12.99 557.12,13.60 557.89,13.60 C559.33,13.60 560.00,10.86 559.71,7.62" fill="none" stroke="#262626" stroke-width="1.2" stroke-linecap="round" stroke-linejoin="round"/>
<text x="560.19" y="13.80" font-size="7.00" font-family="Liberation Sans, sans-serif" fill="#262626" stroke="#262626" stroke-width="0.19" textLength="7.67" lengthAdjust="spacingAndGlyphs" >as</text>
<text x="568.09" y="13.50" font-size="11.00" font-family="Liberation Sans, sans-serif" fill="#262626" stroke="#262626" stroke-width="0.30" textLength="20.85" lengthAdjust="spacingAndGlyphs" >(CO</text>
<text x="588.65" y="13.80" font-size="7.00" font-family="Liberation Sans, sans-serif" fill="#262626" stroke="#262626" stroke-width="0.19" textLength="3.64" lengthAdjust="spacingAndGlyphs" >3</text>
<text x="588.58" y="7.50" font-size="7.00" font-family="Liberation Sans, sans-serif" fill="#262626" stroke="#262626" stroke-width="0.19" textLength="5.60" lengthAdjust="spacingAndGlyphs" >2-</text>
<text x="595.73" y="13.50" font-size="11.00" font-family="Liberation Sans, sans-serif" fill="#262626" stroke="#262626" stroke-width="0.30" textLength="4.14" lengthAdjust="spacingAndGlyphs" >)</text>
<path d="M603.20,21.93 Q603.87,20.92 604.66,21.57 L604.66,24.64 C604.66,26.41 605.44,27.00 606.34,27.00 C608.02,27.00 608.80,24.35 608.46,21.22" fill="none" stroke="#262626" stroke-width="1.2" stroke-linecap="round" stroke-linejoin="round"/>
<text x="609.35" y="27.20" font-size="7.00" font-family="Liberation Sans, sans-serif" fill="#262626" stroke="#262626" stroke-width="0.19" textLength="6.27" lengthAdjust="spacingAndGlyphs" >as</text>
<text x="617.21" y="27.30" font-size="11.00" font-family="Liberation Sans, sans-serif" fill="#262626" stroke="#262626" stroke-width="0.30" textLength="29.13" lengthAdjust="spacingAndGlyphs" >(COO</text>
<text x="645.82" y="21.80" font-size="7.00" font-family="Liberation Sans, sans-serif" fill="#262626" stroke="#262626" stroke-width="0.19" textLength="2.86" lengthAdjust="spacingAndGlyphs" >-</text>
<text x="648.73" y="27.30" font-size="11.00" font-family="Liberation Sans, sans-serif" fill="#262626" stroke="#262626" stroke-width="0.30" textLength="3.77" lengthAdjust="spacingAndGlyphs" >)</text>
<text x="10.11" y="30.40" font-size="11.00" font-family="Liberation Sans, sans-serif" fill="#fafafa" stroke="#fafafa" stroke-width="0.30" textLength="6.39" lengthAdjust="spacingAndGlyphs" >a</text>
<text x="368.44" y="30.40" font-size="11.00" font-family="Liberation Sans, sans-serif" fill="#fafafa" stroke="#fafafa" stroke-width="0.30" textLength="7.42" lengthAdjust="spacingAndGlyphs" >b</text>
</svg>
</body></html>
